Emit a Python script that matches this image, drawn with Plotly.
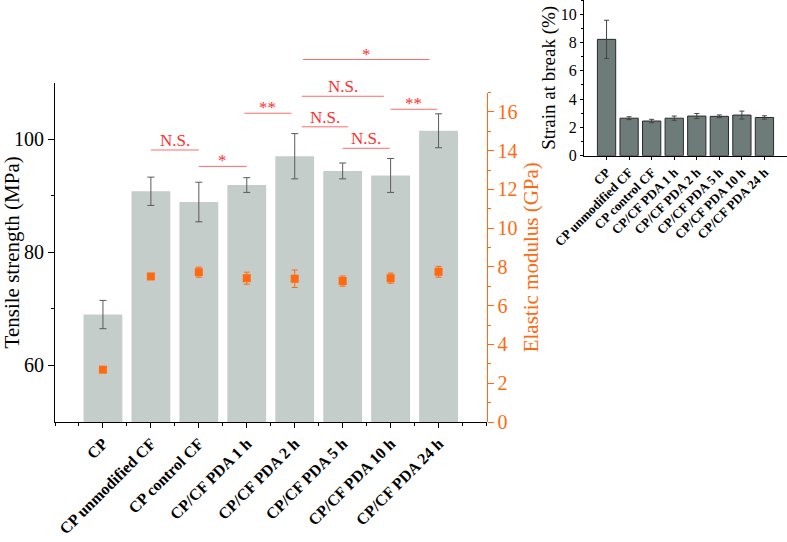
import plotly.graph_objects as go

# ---------------- data ----------------
categories = ["CP", "CP unmodified CF", "CP control CF", "CP/CF PDA 1 h",
              "CP/CF PDA 2 h", "CP/CF PDA 5 h", "CP/CF PDA 10 h", "CP/CF PDA 24 h"]
tensile = [69.0, 90.8, 88.9, 91.9, 97.0, 94.4, 93.6, 101.5]
tensile_err = [2.5, 2.5, 3.5, 1.3, 4.0, 1.4, 3.0, 3.0]
modulus = [2.70, 7.51, 7.73, 7.42, 7.39, 7.27, 7.42, 7.75]
modulus_err = [0.10, 0.10, 0.26, 0.31, 0.45, 0.26, 0.26, 0.28]
strain = [8.22, 2.65, 2.45, 2.65, 2.80, 2.78, 2.87, 2.70]
strain_err = [1.35, 0.10, 0.12, 0.15, 0.18, 0.10, 0.28, 0.12]

# significance brackets (category index span, level in MPa, label)
sig_start = [1.0, 2.0, 2.95, 4.15, 4.15, 5.0, 6.0, 4.17]
sig_end = [2.0, 3.0, 3.93, 5.86, 5.11, 5.98, 6.97, 6.81]
sig_level = [98.1, 95.2, 104.6, 107.6, 102.2, 98.4, 105.3, 114.1]
sig_text = ["N.S.", "*", "**", "N.S.", "N.S.", "N.S.", "**", "*"]

left_ticks = [60, 80, 100]
left_minor = [70, 90]

# ---------------- style ----------------
W, H = 787, 542
SERIF = "Liberation Serif, Times New Roman, serif"
BAR = "#c5cdca"
INSET_BAR = "#6e7c79"
ORANGE = "#ff6a10"
RED = "#ff2e2e"
REDLINE = "#ff6b6b"

idx = list(range(len(categories)))

main_x = [55 / W, 486.5 / W]
main_y = [(H - 422) / H, (H - 82.7) / H]
right_y = [(H - 422) / H, (H - 92.5) / H]
left_range = [50, 110]
sig_top = left_range[0] + (left_range[1] - left_range[0]) * (1 - main_y[0]) / (main_y[1] - main_y[0])

fig = go.Figure()

fig.add_trace(go.Bar(
    x=idx, y=tensile, width=0.81, xaxis="x", yaxis="y",
    marker=dict(color=BAR, line=dict(width=0)),
    error_y=dict(type="data", array=tensile_err, color="#5a5a5a", thickness=1, width=3.5),
    showlegend=False))

fig.add_trace(go.Scatter(
    x=idx, y=modulus, mode="markers", xaxis="x", yaxis="y2",
    marker=dict(symbol="square", size=8, color=ORANGE),
    error_y=dict(type="data", array=modulus_err, color=ORANGE, thickness=1, width=3),
    showlegend=False))

# significance brackets
lx, ly = [], []
for a, b, lv in zip(sig_start, sig_end, sig_level):
    lx += [a, b, None]
    ly += [lv, lv, None]
fig.add_trace(go.Scatter(x=lx, y=ly, mode="lines", xaxis="x3", yaxis="y3",
                         line=dict(color=REDLINE, width=1), showlegend=False,
                         hoverinfo="skip"))
for a, b, lv, t in zip(sig_start, sig_end, sig_level, sig_text):
    star = t.startswith("*")
    fig.add_annotation(x=(a + b) / 2, y=lv, xref="x3", yref="y3", text=t,
                       showarrow=False, yanchor="bottom",
                       yshift=-6 if star else -2,
                       font=dict(family=SERIF, size=17, color=RED))

# inset
fig.add_trace(go.Bar(
    x=idx, y=strain, width=0.81, xaxis="x4", yaxis="y4",
    marker=dict(color=INSET_BAR, line=dict(width=1, color="#2a2a2a")),
    error_y=dict(type="data", array=strain_err, color="#444444", thickness=1, width=2.5),
    showlegend=False))

tickfont_x = dict(family=SERIF, size=16, color="black", weight="bold")
half_ticks = [i * 0.5 - 1 for i in range(19)]

fig.update_layout(
    width=W, height=H,
    margin=dict(l=0, r=0, t=0, b=0),
    paper_bgcolor="white", plot_bgcolor="rgba(0,0,0,0)",
    font=dict(family=SERIF, color="black"),
    xaxis=dict(domain=main_x, range=[-1, 8], anchor="y", automargin=False,
               tickmode="array", tickvals=idx, ticktext=categories, tickangle=-45,
               ticks="outside", ticklen=5, tickcolor="black", tickwidth=1,
               minor=dict(tickmode="array", tickvals=half_ticks, ticks="outside",
                          ticklen=3, tickcolor="black"),
               tickfont=tickfont_x, showline=True, linecolor="black", linewidth=1,
               showgrid=False, zeroline=False),
    yaxis=dict(domain=main_y, range=left_range, anchor="x", automargin=False,
               tickmode="array", tickvals=left_ticks,
               ticks="outside", ticklen=6, tickcolor="black",
               minor=dict(tickmode="array", tickvals=left_minor, ticks="outside",
                          ticklen=3, tickcolor="black"),
               tickfont=dict(family=SERIF, size=20, color="black"),
               title=dict(text="Tensile strength (MPa)", standoff=4,
                          font=dict(family=SERIF, size=21, color="black")),
               showline=True, linecolor="black", linewidth=1,
               showgrid=False, zeroline=False),
    yaxis2=dict(domain=right_y, range=[0, 17], anchor="x", side="right", automargin=False,
                tickmode="linear", tick0=0, dtick=2,
                ticks="outside", ticklen=6, tickcolor=ORANGE,
                minor=dict(dtick=1, tick0=0, ticks="outside", ticklen=3, tickcolor=ORANGE),
                tickfont=dict(family=SERIF, size=20, color=ORANGE),
                title=dict(text="Elastic modulus (GPa)", standoff=6,
                           font=dict(family=SERIF, size=21, color=ORANGE)),
                showline=True, linecolor=ORANGE, linewidth=1,
                showgrid=False, zeroline=False),
    xaxis3=dict(domain=main_x, range=[-1, 8], anchor="y3", visible=False, automargin=False),
    yaxis3=dict(domain=[main_y[0], 1.0], range=[left_range[0], sig_top], anchor="x3",
                visible=False, automargin=False),
    xaxis4=dict(domain=[584 / W, 1.0], range=[-1, 8], anchor="y4", automargin=False,
                tickmode="array", tickvals=idx, ticktext=categories, tickangle=-45,
                ticks="outside", ticklen=3, tickcolor="black",
                tickfont=dict(family=SERIF, size=13, color="black", weight="bold"),
                showline=True, linecolor="black", linewidth=1,
                showgrid=False, zeroline=False),
    yaxis4=dict(domain=[(H - 155.7) / H, 1.0], range=[0, 11], anchor="x4", automargin=False,
                tickmode="linear", tick0=0, dtick=2,
                ticks="outside", ticklen=3, tickcolor="black",
                minor=dict(dtick=1, tick0=0, ticks="outside", ticklen=2, tickcolor="black"),
                tickfont=dict(family=SERIF, size=16, color="black"),
                title=dict(text="Strain at break (%)", standoff=0,
                           font=dict(family=SERIF, size=19, color="black")),
                showline=True, linecolor="black", linewidth=1,
                showgrid=False, zeroline=False),
)

fig.write_html("out.html",
               config={"displayModeBar": False},
               post_script="document.body.style.margin='0';document.body.style.overflow='hidden';")
